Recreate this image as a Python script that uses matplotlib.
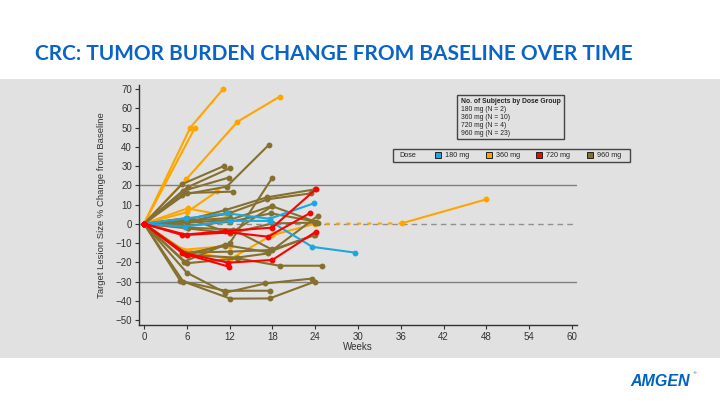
import matplotlib
matplotlib.use("Agg")
import matplotlib.pyplot as plt
from matplotlib.patches import Rectangle

# ---------------- data ----------------
dose_labels = ["180 mg", "360 mg", "720 mg", "960 mg"]
dose_colors = ["#1AA8E0", "#FFA500", "#FF0000", "#85702F"]
group_counts = ["180 mg (N = 2)", "360 mg (N = 10)", "720 mg (N = 4)", "960 mg (N = 23)"]

x_ticks = list(range(0, 61, 6))
y_ticks = list(range(-50, 71, 10))

blue_weeks = [[0, 5.9, 11.7, 17.6, 23.8],
              [0, 5.7, 12.0, 17.6, 23.6, 29.6]]
blue_vals = [[0, 2.8, 5.4, 2.6, 10.6],
             [0, -1.5, 1.5, 1.5, -12.0, -15.0]]

orange_weeks = [[0, 6.5, 11.1],
                [0, 7.1],
                [0, 5.9, 13.1, 19.0],
                [0, 6.0, 10.3],
                [0, 6.1, 11.7],
                [0, 5.1, 12.0, 17.9, 24.0],
                [0, 5.5, 12.0]]
orange_vals = [[0, 50, 70],
               [0, 49.6],
               [0, 23, 53, 66],
               [0, 6, 17],
               [0, 8, 4],
               [0, -13, -18.5, -6, 0],
               [0, -13.5, -11.5]]
# long-term 360 mg subject after week 24 (dashed interval)
orange_ext_weeks = [24.0, 36.1, 48.0]
orange_ext_vals = [0, 0.2, 12.7]

red_weeks = [[0, 5.3, 11.4, 18.0, 24.1],
             [0, 6.0, 12.0, 17.4, 23.3],
             [0, 5.3, 11.8, 18.0, 24.1],
             [0, 6.0, 11.9]]
red_vals = [[0, -5.8, -3.8, -2.0, 18.0],
            [0, -5.8, -4.5, -6.7, 5.6],
            [0, -15.0, -20.2, -18.8, -4.1],
            [0, -16.0, -22.3]]

brown_weeks = [[0, 5.3, 11.2],
               [0, 6.1, 12.1],
               [0, 5.4, 11.9],
               [0, 5.3, 11.6, 17.5],
               [0, 6.0, 12.5],
               [0, 6.1, 12.0, 18.0],
               [0, 6.0, 11.4, 17.2, 24.0],
               [0, 6.0, 12.1, 17.3, 23.4],
               [0, 6.0, 12.0, 17.9, 24.4],
               [0, 6.0, 12.0, 17.8, 24.1],
               [0, 6.1, 12.1, 18.0, 24.0],
               [0, 5.8, 12.0, 17.9, 24.0],
               [0, 6.1, 13.0, 17.4, 24.4],
               [0, 5.6, 11.3, 17.4, 23.9],
               [0, 5.1, 11.4, 17.6],
               [0, 5.5, 12.1, 17.6, 24.0],
               [0, 6.0, 11.4, 17.0, 23.5],
               [0, 6.0, 13.2, 19.0, 24.9],
               [0, 6.0, 12.1, 18.0],
               [0, 6.0, 12.0],
               [0, 6.2, 12.5, 17.9],
               [0, 6.0],
               [0, 5.8, 11.4]]
brown_vals = [[0, 20.5, 30],
              [0, 19, 29],
              [0, 17, 24],
              [0, 15, 19.3, 41],
              [0, 16, 16.7],
              [0, -16.2, -10.2, 24],
              [0, 2, 7.1, 13.7, 17.9],
              [0, 1, 5.7, 12.7, 15.8],
              [0, 0.5, 2, 9.2, 0.6],
              [0, -1, 1, 5.4, 1.1],
              [0, -2.4, -5, 0.2, 0.6],
              [0, -15, -14.5, -13.6, -5.8],
              [0, -16.2, -17.6, -15.4, 4.2],
              [0, -19.7, -11, -14.8, -5.8],
              [0, -29.7, -34.8, -34.8],
              [0, -30, -38.9, -38.8, -30],
              [0, -25.4, -35.8, -31, -28.5],
              [0, -20.5, -18, -21.8, -21.8],
              [0, 3, -5, 9.2],
              [0, 1.5, 3],
              [0, -2, -3, -13.3],
              [0, -1],
              [0, -15.5, -11.5]]

# ---------------- figure ----------------
W, H = 720, 405
fig = plt.figure(figsize=(7.2, 4.05), dpi=100)
fig.patch.set_facecolor("white")

def fx(px):
    return px / W

def fy(py):
    return 1 - py / H

# gray panel
fig.add_artist(Rectangle((0, fy(358)), 1, fy(79) - fy(358), transform=fig.transFigure,
                         facecolor="#E1E1E1", edgecolor="none", zorder=0))

fig.text(fx(35), fy(54), "CRC: TUMOR BURDEN CHANGE FROM BASELINE OVER TIME",
         fontsize=15, fontweight="bold", color="#0A64C8", family="Lato",
         ha="left", va="center")

ax = fig.add_axes([fx(139), fy(325), fx(577) - fx(139), fy(85) - fy(325)])
ax.set_facecolor("none")
ax.set_xlim(-0.7, 60.7)
ax.set_ylim(-52.6, 72.1)

ax.axhline(20, color="#808080", lw=1.0, zorder=1)
ax.axhline(-30, color="#808080", lw=1.0, zorder=1)
ax.axhline(0, color="#909090", lw=1.0, ls=(0, (4, 3)), zorder=1)

lw, ms = 1.5, 3.2

def draw(weeks, vals, color):
    for w, v in zip(weeks, vals):
        ax.plot(w, v, color=color, lw=lw, marker="o", ms=ms, zorder=3)

draw(orange_weeks, orange_vals, dose_colors[1])
ax.plot(orange_ext_weeks[:2], orange_ext_vals[:2], color=dose_colors[1], lw=lw,
        ls=(0, (2, 3)), zorder=3)
ax.plot(orange_ext_weeks[1:], orange_ext_vals[1:], color=dose_colors[1], lw=lw,
        marker="o", ms=ms, zorder=3)
draw(brown_weeks, brown_vals, dose_colors[3])
draw(blue_weeks, blue_vals, dose_colors[0])
draw(red_weeks, red_vals, dose_colors[2])

for s in ["top", "right"]:
    ax.spines[s].set_visible(False)
for s in ["left", "bottom"]:
    ax.spines[s].set_color("#333333")
    ax.spines[s].set_linewidth(1.0)

ax.set_xticks(x_ticks)
ax.set_yticks(y_ticks)
ax.set_yticklabels([str(t).replace("-", "\u2212") for t in y_ticks])
ax.tick_params(axis="both", direction="out", length=3, width=0.8, color="#333333",
               labelsize=7, labelcolor="#333333", pad=2)
for lab in ax.get_xticklabels() + ax.get_yticklabels():
    lab.set_family("Liberation Sans")

ax.set_xlabel("Weeks", fontsize=7, color="#333333", family="Liberation Sans", labelpad=0)
ax.set_ylabel("Target Lesion Size % Change from Baseline", fontsize=6.8, color="#333333",
              family="Liberation Sans", labelpad=7)

# info box
fig.add_artist(Rectangle((fx(457), fy(139)), fx(564) - fx(457), fy(95) - fy(139),
                         transform=fig.transFigure, facecolor="none", edgecolor="#444444",
                         lw=1.0, zorder=5))
fig.text(fx(461), fy(101.5), "No. of Subjects by Dose Group", fontsize=4.9, fontweight="bold",
         family="Liberation Sans", color="#222222", va="center", ha="left")
for i, t in enumerate(group_counts):
    fig.text(fx(461), fy(109.5 + 8 * i), t, fontsize=4.9, family="Liberation Sans",
             color="#222222", va="center", ha="left")

# dose legend
fig.add_artist(Rectangle((fx(393), fy(162)), fx(630) - fx(393), fy(149) - fy(162),
                         transform=fig.transFigure, facecolor="none", edgecolor="#444444",
                         lw=1.0, zorder=5))
fig.text(fx(399), fy(155.5), "Dose", fontsize=5.2, family="Liberation Sans",
         color="#222222", va="center", ha="left")
sq_x = [438, 489, 539, 590]
for x0, lab, col in zip(sq_x, dose_labels, dose_colors):
    fig.add_artist(Rectangle((fx(x0 - 3), fy(158.5)), fx(6), 6 / H, transform=fig.transFigure,
                             facecolor=col, edgecolor="#222222", lw=0.7, zorder=6))
    fig.text(fx(x0 + 7), fy(155.5), lab, fontsize=5.2, family="Liberation Sans",
             color="#222222", va="center", ha="left")

# logo
fig.text(fx(660), fy(382), "AMGEN", fontsize=11.5, fontweight="heavy", style="italic",
         family="Liberation Sans", color="#0063C3", ha="center", va="center")
fig.text(fx(695), fy(373), "\u00ae", fontsize=3.2, color="#0063C3", ha="center", va="center")

fig.savefig("out.png", dpi=100)
